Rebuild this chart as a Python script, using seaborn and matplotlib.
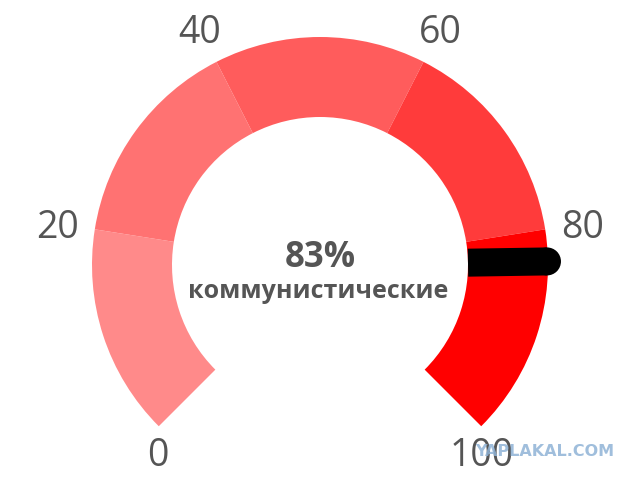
import numpy as np
import matplotlib
matplotlib.use("Agg")
import matplotlib.pyplot as plt
from matplotlib.patches import Wedge, Circle, Polygon
import seaborn as sns

# ---- data ----
bounds = [0, 20, 40, 60, 80, 100]
seg_colors = ["#ff8a8a", "#ff7272", "#ff5c5c", "#ff3b3b", "#ff0000"]
tick_values = [0, 20, 40, 60, 80, 100]
tick_labels = ["0", "20", "40", "60", "80", "100"]
value = 83
value_text = "83%"
caption = "коммунистические"
watermark = "YAPLAKAL.COM"

sns.set_theme(style="white")
plt.rcParams['font.family'] = ['Open Sans', 'DejaVu Sans']

W, H = 640, 482
fig = plt.figure(figsize=(W / 100, H / 100), dpi=100)
ax = fig.add_axes([0, 0, 1, 1])
ax.set_xlim(0, W)
ax.set_ylim(0, H)
ax.axis("off")

cx, cy = 320, H - 265
R_out, R_in = 228, 148
start_ang, span = 225.0, 270.0
vmin, vmax = bounds[0], bounds[-1]


def ang(v):
    return start_ang - span * (v - vmin) / (vmax - vmin)


for i, col in enumerate(seg_colors):
    a1, a2 = ang(bounds[i + 1]), ang(bounds[i])
    ax.add_patch(Wedge((cx, cy), R_out, a1, a2, width=R_out - R_in,
                       facecolor=col, edgecolor="none", zorder=2))

# tick labels
R_lab = 266
for v, lab in zip(tick_values, tick_labels):
    t = np.deg2rad(ang(v))
    x = cx + R_lab * np.cos(t)
    y = cy + R_lab * np.sin(t) - 5
    if np.sin(t) < -0.3:
        x -= np.sign(np.cos(t)) * 26
        y += 2
    ax.text(x, y, lab, ha="center", va="center", fontsize=27,
            color="#555555", zorder=5)

# needle
t = np.deg2rad(ang(value))
half = 14
d = np.array([np.cos(t), np.sin(t)])
n = np.array([-np.sin(t), np.cos(t)])
c = np.array([cx, cy])
p1 = c + d * R_in
p2 = c + d * (R_out - 1)
poly = [p1 + n * half, p2 + n * half, p2 - n * half, p1 - n * half]
ax.add_patch(Polygon(poly, closed=True, facecolor="black", edgecolor="none", zorder=4))
ax.add_patch(Circle(p2, half, facecolor="black", edgecolor="none", zorder=4))

# centre texts
ax.text(320, H - 258, value_text, ha="center", va="center", fontsize=25,
        fontweight="bold", color="#555555", zorder=5)
ax.text(318, H - 292, caption, ha="center", va="center", fontsize=18,
        fontweight="bold", color="#555555", zorder=5)

# watermark
ax.text(545, H - 452, watermark, ha="center", va="center", fontsize=11.5,
        fontweight="bold", color="#8fb3d6", alpha=0.85,
        family=["DejaVu Sans"], zorder=6)

fig.savefig("out.png", dpi=100)
